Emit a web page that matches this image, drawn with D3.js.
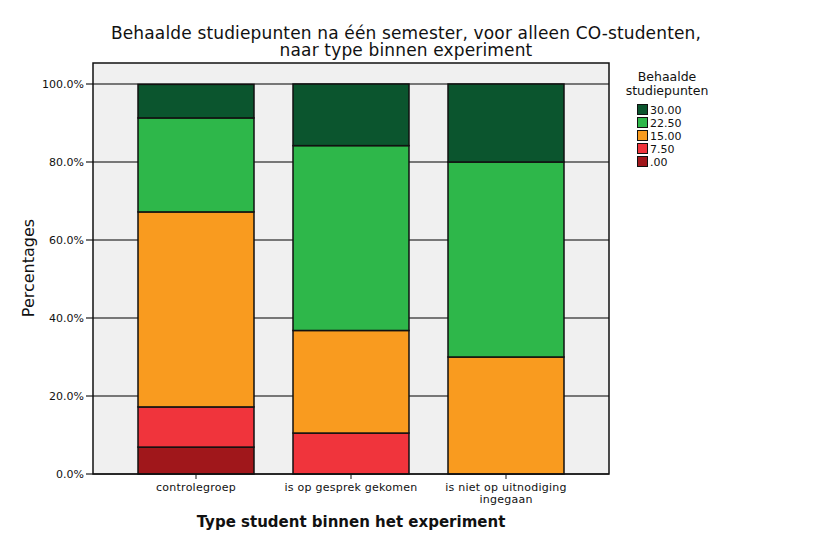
<!DOCTYPE html>
<html><head><meta charset="utf-8">
<script src="https://cdn.jsdelivr.net/npm/d3@7"></script>
<style>body{margin:0;background:#fff}svg{display:block}text{font-family:"DejaVu Sans",Verdana,sans-serif;fill:#111}</style>
</head><body><svg id="c" width="814" height="544"></svg>
<script>
const categories = ["controlegroep", "is op gesprek gekomen", "is niet op uitnodiging ingegaan"];
const categoryLines = [["controlegroep"], ["is op gesprek gekomen"], ["is niet op uitnodiging", "ingegaan"]];
const seriesNames = [".00", "7.50", "15.00", "22.50", "30.00"];
const seriesColors = ["#a0171b", "#f0343c", "#f99b1f", "#2eb74a", "#0b552e"];
// percentages per category, in order of seriesNames
const pct00 = [6.9, 0, 0];
const pct750 = [10.3, 10.5, 0];
const pct1500 = [50.0, 26.3, 30.0];
const pct2250 = [24.1, 47.4, 50.0];
const pct3000 = [8.6, 15.8, 20.0];
const yTicks = [0, 20, 40, 60, 80, 100];

const series = [pct00, pct750, pct1500, pct2250, pct3000];
const svg = d3.select("#c");
const L = 93, R = 609, T = 63, B = 474;
const y = d3.scaleLinear().domain([0, 100]).range([474, 84]);
const x = d3.scaleBand().domain(categories).range([118.5, 583.5]).paddingInner(39/155).paddingOuter(19.5/155);

svg.append("rect").attr("x", L).attr("y", T).attr("width", R - L).attr("height", B - T).attr("fill", "#f0f0f0");
// grid
svg.append("g").selectAll("line").data(yTicks).join("line")
  .attr("x1", L - 7).attr("x2", R).attr("y1", d => y(d)).attr("y2", d => y(d))
  .attr("stroke", "#777").attr("stroke-width", 2);

// stacked bars
const rows = categories.map((c, i) => { const o = {cat: c}; seriesNames.forEach((s, j) => o[s] = series[j][i]); return o; });
const stack = d3.stack().keys(seriesNames)(rows);
svg.append("g").selectAll("g").data(stack).join("g")
  .attr("fill", (d, i) => seriesColors[i])
  .selectAll("rect").data(d => d.filter(p => p[1] - p[0] > 0)).join("rect")
  .attr("x", d => x(d.data.cat)).attr("width", x.bandwidth())
  .attr("y", d => y(d[1])).attr("height", d => y(d[0]) - y(d[1]))
  .attr("stroke", "#111").attr("stroke-width", 1.5);

// frame
svg.append("rect").attr("x", L).attr("y", T).attr("width", R - L).attr("height", B - T)
  .attr("fill", "none").attr("stroke", "#111").attr("stroke-width", 1.5);

// y axis labels
const yAxis = d3.axisLeft(y).tickValues(yTicks).tickSize(0).tickPadding(9).tickFormat(d => d3.format(".1f")(d) + "%");
const ya = svg.append("g").attr("transform", `translate(${L},0)`).call(yAxis);
ya.select(".domain").remove();
ya.selectAll("text").style("font-size", "11px").attr("fill", "#111").style("font-family", "DejaVu Sans");

// x ticks
const xg = svg.append("g");
categories.forEach((c, i) => {
  const cx = x(c) + x.bandwidth() / 2;
  xg.append("line").attr("x1", cx).attr("x2", cx).attr("y1", B).attr("y2", B + 5).attr("stroke", "#111").attr("stroke-width", 1);
  categoryLines[i].forEach((t, k) => {
    xg.append("text").attr("x", cx).attr("y", 491 + k * 12).attr("text-anchor", "middle").style("font-size", "11px").style("letter-spacing", "0.25px").text(t);
  });
});

// titles
svg.append("text").attr("x", 406).attr("y", 39).attr("text-anchor", "middle").style("font-size", "17px").style("letter-spacing", "0.15px").text("Behaalde studiepunten na één semester, voor alleen CO-studenten,");
svg.append("text").attr("x", 406).attr("y", 56).attr("text-anchor", "middle").style("font-size", "17px").style("letter-spacing", "0.15px").text("naar type binnen experiment");
svg.append("text").attr("transform", "translate(34,268) rotate(-90)").attr("text-anchor", "middle").style("font-size", "16px").text("Percentages");
svg.append("text").attr("x", 351).attr("y", 527).attr("text-anchor", "middle").style("font-size", "15px").style("font-weight", "bold").text("Type student binnen het experiment");

// legend
const lg = svg.append("g");
lg.append("text").attr("x", 667).attr("y", 81).attr("text-anchor", "middle").style("font-size", "12.5px").text("Behaalde");
lg.append("text").attr("x", 667).attr("y", 95).attr("text-anchor", "middle").style("font-size", "12.5px").text("studiepunten");
const legOrder = seriesNames.map((s, i) => i).reverse();
legOrder.forEach((si, k) => {
  const yy = 104 + k * 13;
  lg.append("rect").attr("x", 637.5).attr("y", yy + 0.5).attr("width", 10).attr("height", 10).attr("fill", seriesColors[si]).attr("stroke", "#111").attr("stroke-width", 1);
  lg.append("text").attr("x", 650).attr("y", yy + 10).style("font-size", "11px").text(seriesNames[si]);
});
</script></body></html>
